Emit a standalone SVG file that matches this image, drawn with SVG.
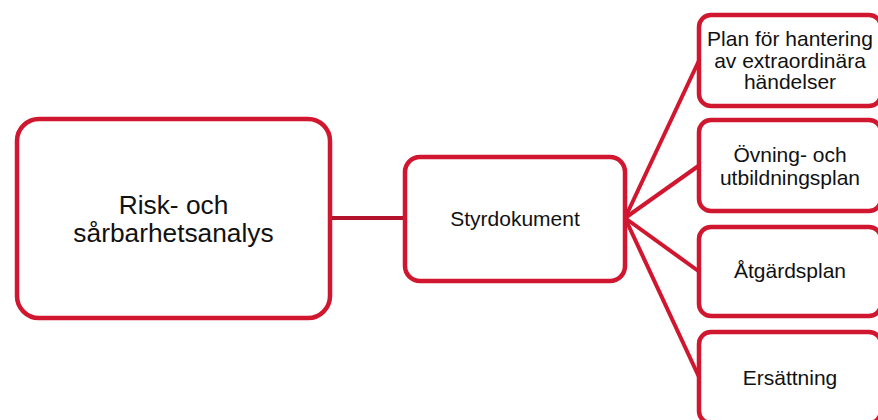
<svg xmlns="http://www.w3.org/2000/svg" width="878" height="420" viewBox="0 0 878 420">
<style>
.box{fill:#fff;stroke:#d0172f;stroke-width:4.5}
.t{font-family:"Liberation Sans",Arial,sans-serif;fill:#111;text-anchor:middle}
.c{stroke:#d0172f;stroke-width:4;fill:none}
</style>
<rect width="878" height="420" fill="#fff"/>
<g id="connectors">
<line class="c" x1="330" y1="218" x2="405" y2="218" style="stroke:#b3142c"/>
<line class="c" x1="625" y1="218" x2="699" y2="60.5"/>
<line class="c" x1="625" y1="218" x2="699" y2="165.5"/>
<line class="c" x1="625" y1="218" x2="699" y2="271.5"/>
<line class="c" x1="625" y1="218" x2="699" y2="377"/>
</g>
<g id="risk">
<rect class="box" x="17" y="119" width="313" height="199" rx="22"/>
<text class="t" font-size="26.3"><tspan x="173.5" y="214">Risk- och</tspan><tspan x="173.5" y="242">sårbarhetsanalys</tspan></text>
</g>
<g id="styrdokument">
<rect class="box" x="405" y="157" width="220" height="124" rx="15"/>
<text class="t" font-size="21" x="515" y="226">Styrdokument</text>
</g>
<g id="plan">
<rect class="box" x="699" y="15" width="182" height="91" rx="12"/>
<text class="t" font-size="21"><tspan x="790" y="46">Plan för hantering</tspan><tspan x="790" y="67.5">av extraordinära</tspan><tspan x="790" y="89">händelser</tspan></text>
</g>
<g id="ovning">
<rect class="box" x="699" y="120" width="182" height="91" rx="12"/>
<text class="t" font-size="21"><tspan x="790" y="162">Övning- och</tspan><tspan x="790" y="185">utbildningsplan</tspan></text>
</g>
<g id="atgard">
<rect class="box" x="699" y="227" width="182" height="89" rx="12"/>
<text class="t" font-size="21" x="790" y="278">Åtgärdsplan</text>
</g>
<g id="ersattning">
<rect class="box" x="699" y="332" width="182" height="91" rx="12"/>
<text class="t" font-size="21" x="790" y="385">Ersättning</text>
</g>
</svg>
